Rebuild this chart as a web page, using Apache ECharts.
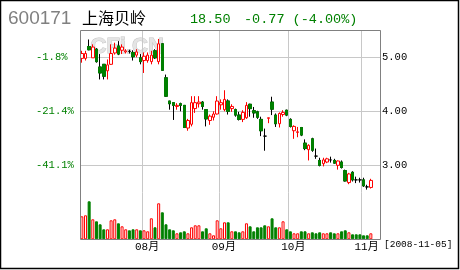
<!DOCTYPE html>
<html><head><meta charset="utf-8">
<script src="https://cdn.jsdelivr.net/npm/echarts@6/dist/echarts.min.js"></script>
<style>html,body{margin:0;padding:0;background:#fff}#c{width:460px;height:270px}</style>
</head><body><div id="c"></div>
<script>
// trading days (2008)
const dates = [
 '2008-07-09','2008-07-10','2008-07-11','2008-07-14','2008-07-15','2008-07-16','2008-07-17','2008-07-18',
 '2008-07-21','2008-07-22','2008-07-23','2008-07-24','2008-07-25','2008-07-28','2008-07-29','2008-07-30','2008-07-31',
 '2008-08-01','2008-08-04','2008-08-05','2008-08-06','2008-08-07','2008-08-08','2008-08-11','2008-08-12','2008-08-13',
 '2008-08-14','2008-08-15','2008-08-18','2008-08-19','2008-08-20','2008-08-21','2008-08-22','2008-08-25','2008-08-26',
 '2008-08-27','2008-08-28','2008-08-29',
 '2008-09-01','2008-09-02','2008-09-03','2008-09-04','2008-09-05','2008-09-08','2008-09-09','2008-09-10','2008-09-11',
 '2008-09-12','2008-09-16','2008-09-17','2008-09-18','2008-09-19','2008-09-22','2008-09-23','2008-09-24','2008-09-25','2008-09-26',
 '2008-10-06','2008-10-07','2008-10-08','2008-10-09','2008-10-10','2008-10-13','2008-10-14','2008-10-15','2008-10-16',
 '2008-10-17','2008-10-20','2008-10-21','2008-10-22','2008-10-23','2008-10-24','2008-10-27','2008-10-28','2008-10-29',
 '2008-10-30','2008-10-31',
 '2008-11-03','2008-11-04','2008-11-05'
];
const padSlots = ['', ' '];
const opens = [4.98,4.98,5.20,4.99,5.15,4.82,4.87,4.75,4.87,5.08,5.21,5.13,5.10,5.11,5.09,5.04,4.99,
 4.94,4.94,4.92,5.12,4.92,5.25,4.62,4.19,4.16,4.09,4.14,4.11,3.69,3.76,4.05,4.14,4.17,4.03,3.83,3.89,3.95,
 4.12,4.03,4.19,4.05,4.03,3.93,3.85,3.88,4.13,4.01,3.99,3.85,3.54,3.87,4.17,3.93,3.77,3.94,4.02,
 3.85,3.64,3.61,3.70,3.41,3.29,3.49,3.17,3.09,3.03,3.06,3.10,3.09,3.00,3.06,2.90,2.68,2.87,2.73,2.73,
 2.73,2.60,2.59];
const closes = [5.07,5.07,5.14,5.19,4.92,4.71,4.65,4.86,5.07,5.17,5.06,5.19,5.12,5.11,5.01,5.10,4.92,
 5.02,5.04,5.04,4.99,5.25,4.76,4.28,4.14,4.11,4.11,4.11,3.70,3.83,4.16,4.16,4.17,4.09,3.86,3.91,3.95,4.19,
 4.16,4.22,4.00,4.09,3.93,3.85,3.98,4.11,4.05,3.97,3.89,3.64,3.54,3.88,4.04,3.77,3.96,3.98,3.93,
 3.72,3.72,3.62,3.56,3.31,3.37,3.28,3.17,3.00,3.10,3.12,3.10,3.04,3.08,2.96,2.71,2.84,2.73,2.73,2.73,
 2.62,2.60,2.72];
const lows = [4.90,4.94,5.13,4.99,4.90,4.59,4.59,4.59,4.86,5.05,5.04,5.06,5.07,5.07,4.94,5.00,4.87,
 4.71,4.90,4.87,4.97,4.87,4.75,4.27,4.03,3.84,4.03,4.00,3.69,3.64,3.72,3.97,4.07,4.03,3.72,3.75,3.83,3.94,
 4.03,4.00,3.94,3.99,3.90,3.83,3.80,3.86,3.90,3.88,3.86,3.54,3.27,3.78,3.93,3.71,3.70,3.90,3.91,
 3.70,3.49,3.52,3.54,3.28,3.09,3.25,3.12,2.98,2.98,3.04,3.05,3.03,2.92,2.94,2.70,2.65,2.70,2.67,2.68,
 2.60,2.55,2.57];
const highs = [5.12,5.12,5.33,5.24,5.17,5.06,4.87,4.96,5.24,5.27,5.30,5.24,5.15,5.14,5.13,5.15,5.06,
 5.09,5.09,5.12,5.15,5.34,5.26,4.68,4.19,4.17,4.15,4.16,4.11,3.86,4.28,4.28,4.28,4.19,4.03,3.94,4.00,4.28,
 4.22,4.39,4.22,4.13,4.05,3.99,4.02,4.17,4.14,4.08,4.01,3.90,3.68,3.88,4.27,3.96,3.98,4.02,4.03,
 3.87,3.74,3.71,3.71,3.48,3.39,3.51,3.31,3.14,3.14,3.14,3.16,3.12,3.09,3.09,2.92,2.86,2.89,2.79,2.77,
 2.77,2.64,2.75];
const volumes = [23,24,38,20,18,15,10,10,19,20,16,13,10,9,10,10,9,
 9,8,21,12,36,27,15,10,9,6,7,8,6,12,14,14,8,11,6,4,19,
 11,17,17,8,8,7,8,16,13,8,12,12,14,13,21,12,12,18,10,
 8,6,6,8,8,6,7,6,7,6,6,7,6,6,8,9,7,5,5,5,
 4,4,6];
const priceTicks = [3, 4, 5];
const priceLabels = ['3.00', '4.00', '5.00'];
const pctLabels = ['-41.1%', '-21.4%', '-1.8%'];
const monthStarts = ['2008-08-01', '2008-09-01', '2008-10-06', '2008-11-03'];
const monthLabels = ['08月', '09月', '10月', '11月'];

const RED = '#ff0000', GREEN = '#008000', GRID = '#c8c8c8';
const cats = dates.concat(padSlots);
const monthIdx = monthStarts.map(d => cats.indexOf(d));

const kData = dates.map((d, i) => {
  const item = { value: [opens[i], closes[i], lows[i], highs[i]] };
  if (opens[i] === closes[i]) item.itemStyle = { color: '#000', color0: '#000', borderColor: '#000', borderColor0: '#000' };
  return item;
});
const bodyData = dates.map((d, i) => closes[i] < opens[i] ? [opens[i], closes[i], closes[i], opens[i]] : '-');
const volData = dates.map((d, i) => ({
  value: volumes[i],
  itemStyle: closes[i] > opens[i]
    ? { color: '#fff', borderColor: RED, borderWidth: 1 }
    : { color: GREEN, borderColor: GREEN, borderWidth: 1 }
}));
const tickIndex = v => priceTicks.findIndex(t => Math.abs(t - v) < 1e-6);
const monoFont = '"Liberation Mono", "DejaVu Sans Mono", monospace';

const chart = echarts.init(document.getElementById('c'), null, { renderer: 'canvas' });
chart.setOption({
  animation: false,
  backgroundColor: '#fff',
  grid: [
    { left: 80, right: 80, top: 30.3, height: 162 },
    { left: 80, right: 80, top: 192.3, height: 47 }
  ],
  xAxis: [
    { type: 'category', gridIndex: 0, data: cats, boundaryGap: true,
      axisLine: { show: false }, axisTick: { show: false }, axisLabel: { show: false },
      splitLine: { show: true, interval: (i) => monthIdx.includes(i), lineStyle: { color: GRID, width: 1 } } },
    { type: 'category', gridIndex: 1, data: cats, boundaryGap: true,
      axisLine: { show: false }, axisTick: { show: false },
      axisLabel: { show: true, interval: (i) => monthIdx.includes(i), margin: 2, padding: [0, 0, 0, 6],
        formatter: (v) => { const k = monthStarts.indexOf(v); return k >= 0 ? monthLabels[k] : ''; },
        color: '#000', fontSize: 11, fontFamily: '"Liberation Mono", "Noto Sans CJK SC", monospace' },
      splitLine: { show: true, interval: (i) => monthIdx.includes(i), lineStyle: { color: GRID, width: 1 } } }
  ],
  yAxis: [
    { type: 'value', gridIndex: 0, position: 'right', min: 2.5, max: 5.5, interval: 0.5,
      axisLine: { show: false }, axisTick: { show: false },
      axisLabel: { margin: 2, color: '#000', fontSize: 10.5, fontFamily: monoFont,
        formatter: (v) => { const k = tickIndex(v); return k >= 0 ? priceLabels[k] : ''; } },
      splitLine: { show: true, lineStyle: { color: ['rgba(0,0,0,0)', GRID], width: 1 } } },
    { type: 'value', gridIndex: 0, position: 'left', min: 2.5, max: 5.5, interval: 0.5,
      axisLine: { show: false }, axisTick: { show: false }, splitLine: { show: false },
      axisLabel: { margin: 44, align: 'left', color: GREEN, fontSize: 10.5, fontFamily: monoFont,
        formatter: (v) => { const k = tickIndex(v); return k >= 0 ? pctLabels[k] : ''; } } },
    { type: 'value', gridIndex: 1, min: 0, max: 47, show: false }
  ],
  graphic: [
    { type: 'rect', z: -10, shape: { x: 0.5, y: 0.5, width: 458, height: 268 }, style: { fill: 'none', stroke: '#000', lineWidth: 1.5 } },
    { type: 'text', z: -5, left: 90, top: 35, style: { text: 'CFi.CN', fill: '#e4e4e4', stroke: '#c4c4c4', lineWidth: 1, font: 'bold 22px "Liberation Sans", Arial, sans-serif' } },
    { type: 'rect', z: 50, shape: { x: 80.5, y: 30.5, width: 300, height: 209 }, style: { fill: 'none', stroke: '#808080', lineWidth: 1 } },
    { type: 'text', left: 8, top: 9, style: { text: '600171', fill: '#808080', font: '19px "Liberation Sans", Arial, sans-serif' } },
    { type: 'text', left: 82, top: 10, style: { text: '上海贝岭', fill: '#000', font: '16px "Noto Sans CJK SC", sans-serif' } },
    { type: 'text', left: 190, top: 12, style: { text: '18.50', fill: GREEN, font: '13.5px "Liberation Mono", monospace' } },
    { type: 'text', left: 244, top: 12, style: { text: '-0.77 (-4.00%)', fill: GREEN, font: '13.5px "Liberation Mono", monospace' } },
    { type: 'text', left: 384, top: 239, style: { text: '[2008-11-05]', fill: '#000', font: '9.5px "Liberation Mono", monospace' } }
  ],
  series: [
    { type: 'candlestick', name: 'K', xAxisIndex: 0, yAxisIndex: 0, barWidth: 3, data: kData,
      itemStyle: { color: '#fff', color0: GREEN, borderColor: RED, borderColor0: '#000', borderWidth: 1 } },
    { type: 'candlestick', name: 'body', xAxisIndex: 0, yAxisIndex: 0, barWidth: 3, data: bodyData,
      itemStyle: { color: GREEN, color0: GREEN, borderColor: GREEN, borderColor0: GREEN, borderWidth: 1 } },
    { type: 'bar', name: 'vol', xAxisIndex: 1, yAxisIndex: 2, barWidth: 3, data: volData }
  ]
});
</script></body></html>
